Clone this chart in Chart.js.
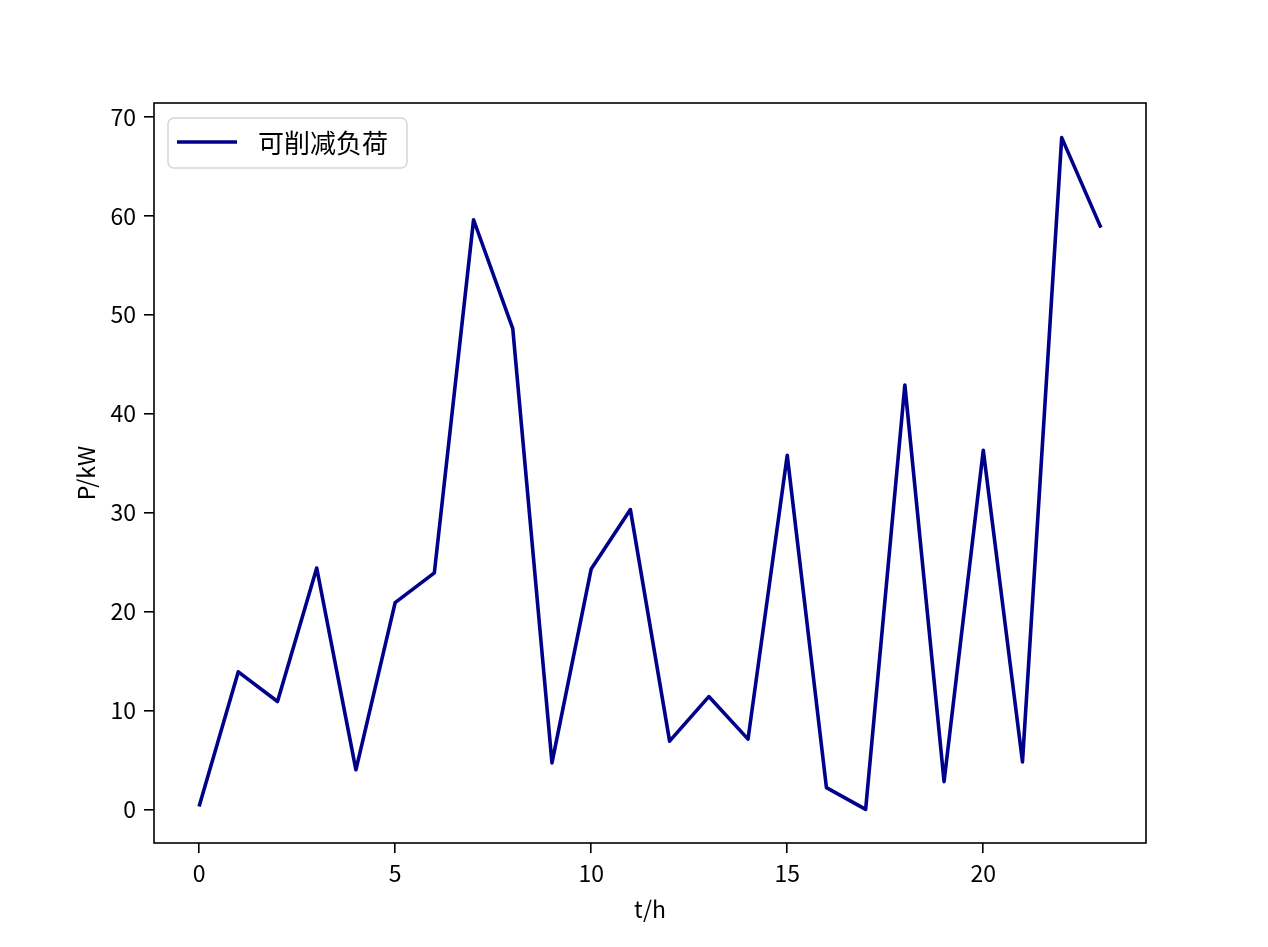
<!DOCTYPE html>
<html>
<head>
<meta charset="utf-8">
<script src="https://cdn.jsdelivr.net/npm/chart.js@4"></script>
<style>
  html, body { margin: 0; padding: 0; background: #fff; }
  #wrap { width: 1268px; height: 947px; }
</style>
</head>
<body>
<div id="wrap"><canvas id="loadChart"></canvas></div>
<script>
// hourly values
const hours = [0, 1, 2, 3, 4, 5, 6, 7, 8, 9, 10, 11, 12, 13, 14, 15, 16, 17, 18, 19, 20, 21, 22, 23];
const reducibleLoad = [0.3, 13.9, 10.9, 24.4, 4.0, 20.9, 23.9, 59.6, 48.6, 4.7, 24.3, 30.3,
                       6.9, 11.4, 7.1, 35.8, 2.2, 0.0, 42.9, 2.8, 36.3, 4.8, 67.9, 58.8];
const xTicks = [0, 5, 10, 15, 20];
const yTicks = [0, 10, 20, 30, 40, 50, 60, 70];
const seriesName = '可削减负荷';

const FONT = '"Noto Sans CJK SC", "DejaVu Sans", sans-serif';
Chart.defaults.font.family = FONT;
Chart.defaults.color = '#000';

// frame round the plot area plus the legend box in the top-left corner
const frameAndLegend = {
    id: 'frameAndLegend',
    afterDraw(chart) {
        const ctx = chart.ctx;
        const a = chart.chartArea;
        ctx.save();
        ctx.strokeStyle = '#000';
        ctx.lineWidth = 1.6;
        ctx.strokeRect(a.left, a.top, a.right - a.left, a.bottom - a.top);

        // legend
        const x = a.left + 14, y = a.top + 15, w = 239, h = 50, r = 6;
        ctx.beginPath();
        ctx.roundRect(x, y, w, h, r);
        ctx.fillStyle = 'rgba(255,255,255,0.8)';
        ctx.fill();
        ctx.strokeStyle = '#d6d6d6';
        ctx.lineWidth = 1.5;
        ctx.stroke();

        const ds = chart.data.datasets[0];
        ctx.beginPath();
        ctx.moveTo(x + 9, y + 24);
        ctx.lineTo(x + 69, y + 24);
        ctx.strokeStyle = ds.borderColor;
        ctx.lineWidth = ds.borderWidth;
        ctx.stroke();

        ctx.fillStyle = '#000';
        ctx.font = '26px ' + FONT;
        ctx.textBaseline = 'middle';
        ctx.fillText(ds.label, x + 90, y + 25);
        ctx.restore();
    }
};

const ctx = document.getElementById('loadChart').getContext('2d');
new Chart(ctx, {
    type: 'line',
    data: {
        datasets: [{
            label: seriesName,
            data: hours.map((h, i) => ({ x: h, y: reducibleLoad[i] })),
            borderColor: '#00008b',
            borderWidth: 3.6,
            borderJoinStyle: 'round',
            borderCapStyle: 'butt',
            pointRadius: 0,
            tension: 0,
            fill: false
        }]
    },
    options: {
        responsive: true,
        maintainAspectRatio: false,
        animation: false,
        events: [],
        layout: { padding: { top: 103, right: 122, left: 0, bottom: 0 } },
        plugins: {
            legend: { display: false },
            tooltip: { enabled: false }
        },
        scales: {
            x: {
                type: 'linear',
                min: -1.15,
                max: 24.15,
                afterBuildTicks: scale => { scale.ticks = xTicks.map(v => ({ value: v })); },
                afterFit: scale => { scale.height = 104; },
                border: { display: false },
                grid: { drawOnChartArea: false, drawTicks: true, tickLength: 10, color: '#000', lineWidth: 1.6 },
                ticks: { font: { size: 23 }, padding: 6, maxRotation: 0 },
                title: { display: true, text: 't/h', font: { size: 23 }, padding: { bottom: 24 } }
            },
            y: {
                min: -3.4,
                max: 71.4,
                afterBuildTicks: scale => { scale.ticks = yTicks.map(v => ({ value: v })); },
                afterFit: scale => { scale.width = 154; },
                border: { display: false },
                grid: { drawOnChartArea: false, drawTicks: true, tickLength: 10, color: '#000', lineWidth: 1.6 },
                ticks: { font: { size: 23 }, padding: 8 },
                title: { display: true, text: 'P/kW', font: { size: 23 }, padding: { top: 72 } }
            }
        }
    },
    plugins: [frameAndLegend]
});
</script>
</body>
</html>
